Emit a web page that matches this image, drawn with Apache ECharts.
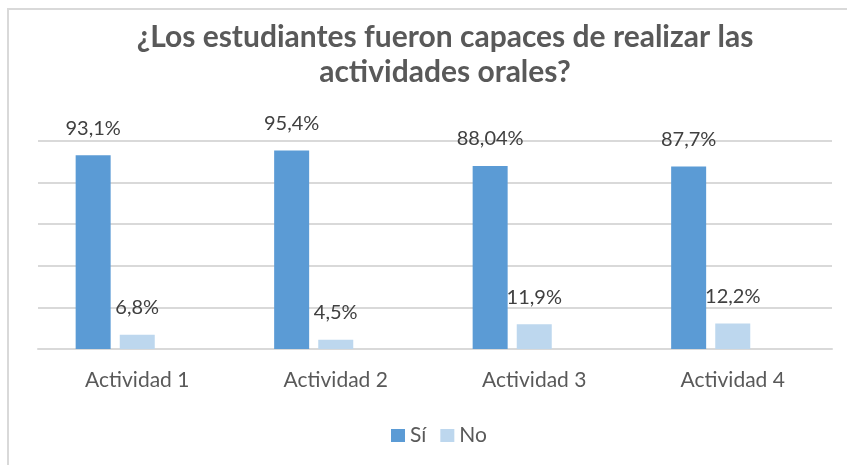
<!DOCTYPE html>
<html>
<head>
<meta charset="utf-8">
<script src="https://cdn.jsdelivr.net/npm/echarts@6/dist/echarts.min.js"></script>
<style>
  html, body { margin: 0; padding: 0; background: #fff; }
  #chart { width: 847px; height: 465px; }
</style>
</head>
<body>
<div id="chart"></div>
<script>
// datos
var categorias = ['Actividad 1', 'Actividad 2', 'Actividad 3', 'Actividad 4'];
var valoresSi = [93.1, 95.4, 88.04, 87.7];
var valoresNo = [6.8, 4.5, 11.9, 12.2];
var etiquetasSi = ['93,1%', '95,4%', '88,04%', '87,7%'];
var etiquetasNo = ['6,8%', '4,5%', '11,9%', '12,2%'];
// serie vacía que en el original desplaza las barras a la izquierda
var valoresVacios = ['-', '-', '-', '-'];

var fuente = 'Lato';

var myChart = echarts.init(document.getElementById('chart'));
myChart.setOption({
  animation: false,
  color: ['#5B9BD5', '#BDD7EE'],
  graphic: [{
    type: 'rect',
    shape: { x: 8, y: 9, width: 900, height: 500 },
    style: { fill: 'none', stroke: '#d9d9d9', lineWidth: 2 }
  }],
  title: {
    text: '¿Los estudiantes fueron capaces de realizar las\nactividades orales?',
    left: 440,
    textAlign: 'center',
    top: 15,
    textStyle: {
      color: '#595959',
      fontFamily: fuente,
      fontWeight: 'bold',
      fontSize: 30,
      lineHeight: 35
    }
  },
  legend: {
    data: ['Sí', 'No'],
    top: 420,
    left: 386,
    itemWidth: 14,
    itemHeight: 13,
    itemGap: 14,
    icon: 'rect',
    textStyle: { color: '#595959', fontFamily: fuente, fontSize: 21 }
  },
  grid: {
    left: 38,
    right: 15,
    top: 141,
    bottom: 116
  },
  xAxis: {
    type: 'category',
    data: categorias,
    axisTick: { show: false },
    axisLine: { lineStyle: { color: '#d9d9d9', width: 2 } },
    axisLabel: { color: '#595959', fontFamily: fuente, fontSize: 21, margin: 21 }
  },
  yAxis: {
    type: 'value',
    min: 0,
    max: 100,
    interval: 20,
    axisLabel: { show: false },
    axisLine: { show: false },
    axisTick: { show: false },
    splitLine: { lineStyle: { color: '#d9d9d9', width: 2 } }
  },
  series: [{
    name: 'Sí',
    type: 'bar',
    data: valoresSi,
    barWidth: 35,
    barGap: '26%',
    label: {
      show: true,
      position: 'top',
      distance: 17,
      color: '#404040',
      fontFamily: fuente,
      fontSize: 20,
      formatter: function (p) { return etiquetasSi[p.dataIndex]; }
    }
  }, {
    name: 'No',
    type: 'bar',
    data: valoresNo,
    barWidth: 35,
    barGap: '26%',
    label: {
      show: true,
      position: 'top',
      distance: 17,
      color: '#404040',
      fontFamily: fuente,
      fontSize: 20,
      formatter: function (p) { return etiquetasNo[p.dataIndex]; }
    }
  }, {
    name: 'vacía',
    type: 'bar',
    data: valoresVacios,
    barWidth: 35,
    barGap: '26%'
  }]
});
</script>
</body>
</html>
